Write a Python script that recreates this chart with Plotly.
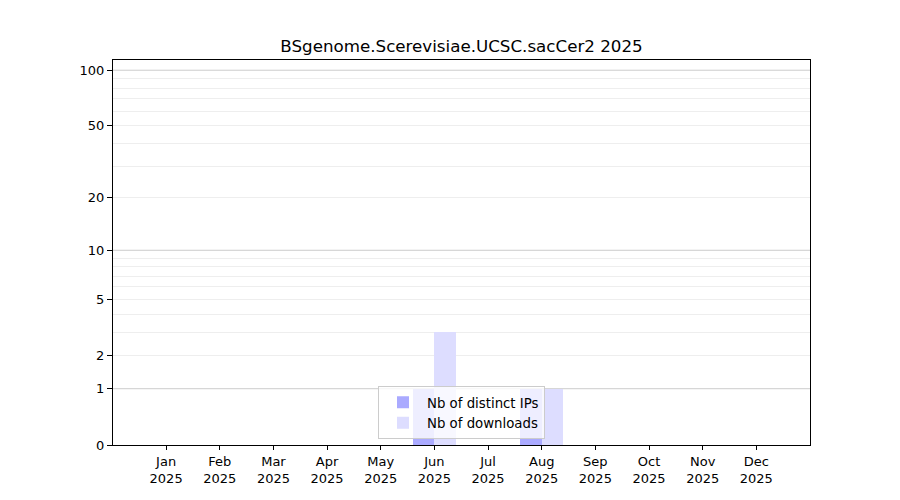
import numpy as np
import plotly.graph_objects as go

months = ["Jan", "Feb", "Mar", "Apr", "May", "Jun", "Jul", "Aug", "Sep", "Oct", "Nov", "Dec"]
year = "2025"
distinct_ips = [0, 0, 0, 0, 0, 1, 0, 1, 0, 0, 0, 0]
downloads = [0, 0, 0, 0, 0, 3, 0, 1, 0, 0, 0, 0]

label_ticks = [0, 1, 2, 5, 10, 20, 50, 100]
major_grid = [1, 10, 100]
minor_grid = [2, 3, 4, 5, 6, 7, 8, 9, 20, 30, 40, 50, 60, 70, 80, 90]


def tr(v):
    # symlog-like scale: log10(1 + y)
    return np.log10(1 + np.asarray(v, dtype=float))


x = np.arange(len(months))
FONT = "DejaVu Sans"

fig = go.Figure()
fig.add_trace(go.Bar(
    x=x, y=tr(distinct_ips), offset=-0.4, width=0.4,
    marker=dict(color="#aaaaff", line=dict(width=0)),
    name="Nb of distinct IPs",
))
fig.add_trace(go.Bar(
    x=x, y=tr(downloads), offset=0.0, width=0.4,
    marker=dict(color="#ddddff", line=dict(width=0)),
    name="Nb of downloads",
))

# darker major gridlines at decades
for v in major_grid:
    fig.add_shape(type="line", xref="paper", x0=0, x1=1, yref="y",
                  y0=float(tr(v)), y1=float(tr(v)),
                  line=dict(color="#cccccc", width=1), layer="below")

# the page body has an 8px margin, so margins are shifted to compensate
fig.update_layout(
    width=900, height=500,
    margin=dict(l=105, r=98, t=52, b=63),
    plot_bgcolor="white", paper_bgcolor="white",
    font=dict(family=FONT, size=13, color="black"),
    title=dict(text=f"BSgenome.Scerevisiae.UCSC.sacCer2 {year}",
               x=(105 + 802) / 2 / 900, xanchor="center",
               y=1 - 38 / 500, yanchor="middle",
               font=dict(size=16.7)),
    showlegend=True,
    legend=dict(x=0.5, xanchor="center", y=0.015, yanchor="bottom",
                bgcolor="rgba(255,255,255,0.8)", bordercolor="#cccccc",
                borderwidth=1, font=dict(size=13.3), tracegroupgap=0,
                itemwidth=38),
    bargap=0,
)

fig.update_xaxes(
    range=[-0.99, 12.0],
    tickvals=x, ticktext=[f"{m}<br>{year}" for m in months],
    ticks="outside", ticklen=4, tickwidth=1, tickcolor="black",
    showgrid=False, zeroline=False,
    showline=True, linecolor="black", linewidth=1, mirror=True,
)
fig.update_yaxes(
    range=[0, 2.059],
    tickvals=tr(label_ticks), ticktext=[str(v) for v in label_ticks],
    ticks="outside", ticklen=5, tickwidth=1, tickcolor="black",
    showgrid=False, zeroline=False,
    showline=True, linecolor="black", linewidth=1, mirror=True,
    minor=dict(tickmode="array", tickvals=tr(minor_grid), showgrid=True,
               gridcolor="#eeeeee", gridwidth=1, ticks=""),
)

fig.write_html("out.html")
